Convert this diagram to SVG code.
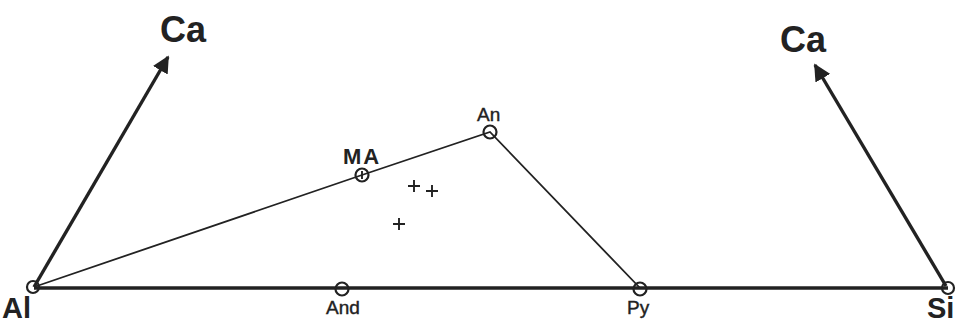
<svg xmlns="http://www.w3.org/2000/svg" width="964" height="323" viewBox="0 0 964 323">
<defs>
<style>
.thick{stroke:#222;stroke-width:3.4;fill:none}
.thin{stroke:#222;stroke-width:1.8;fill:none}
.pt{stroke:#222;stroke-width:2.2;fill:none}
.big{font-family:"Liberation Sans",Arial,sans-serif;font-weight:bold;font-size:36px;fill:#222}
.lbl{font-family:"Liberation Sans",Arial,sans-serif;font-weight:bold;font-size:29px;fill:#222}
.mid{font-family:"Liberation Sans",Arial,sans-serif;font-weight:bold;font-size:22px;fill:#222;letter-spacing:2px}
.sm{font-family:"Liberation Sans",Arial,sans-serif;font-size:19px;fill:#222;stroke:#222;stroke-width:0.4}
.cross{stroke:#222;stroke-width:1.9}
</style>
<marker id="ah" viewBox="0 0 10 10" refX="9" refY="5" markerWidth="5" markerHeight="5" orient="auto" markerUnits="strokeWidth">
<path d="M0,0 L10,5 L0,10 z" fill="#222"/>
</marker>
</defs>
<rect width="964" height="323" fill="#fff"/>
<g id="connectors">
<line class="thick" x1="34" y1="288" x2="948" y2="288"/>
<line class="thick" x1="34" y1="287" x2="168" y2="57" marker-end="url(#ah)"/>
<line class="thick" x1="946" y1="286" x2="815" y2="65" marker-end="url(#ah)"/>
<polyline class="thin" points="34,287 362,175 490,132 640,288"/>
</g>
<g id="Al"><circle class="pt" cx="33" cy="287" r="6"/><text class="lbl" x="2" y="318">Al</text></g>
<g id="Si"><circle class="pt" cx="948" cy="288" r="6"/><text class="lbl" x="927" y="318">Si</text></g>
<g id="Ca-left"><text class="big" x="160" y="42">Ca</text></g>
<g id="Ca-right"><text class="big" x="780" y="52">Ca</text></g>
<g id="MA"><circle class="pt" cx="362" cy="175" r="6.5"/><line class="cross" x1="362" y1="171" x2="362" y2="179"/><text class="mid" x="343" y="164">MA</text></g>
<g id="An"><circle class="pt" cx="490" cy="132" r="6.5"/><text class="sm" x="477" y="121">An</text></g>
<g id="And"><circle class="pt" cx="342" cy="289" r="6.5"/><text class="sm" x="326" y="314">And</text></g>
<g id="Py"><circle class="pt" cx="640" cy="289" r="6.5"/><text class="sm" x="627" y="314">Py</text></g>
<g id="crosses">
<path class="cross" d="M408,186 h12 M414,180 v12"/>
<path class="cross" d="M426,191 h12 M432,185 v12"/>
<path class="cross" d="M393,224 h12 M399,218 v12"/>
</g>
</svg>
